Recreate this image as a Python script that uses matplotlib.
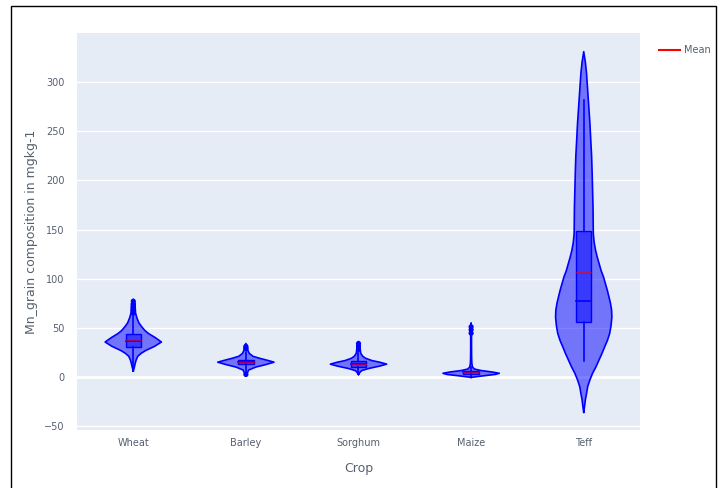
import numpy as np
import matplotlib.pyplot as plt
from matplotlib.lines import Line2D
from matplotlib.patches import Rectangle

crops = ['Wheat', 'Barley', 'Sorghum', 'Maize', 'Teff']

# violin outlines: value levels and relative half-width (1 = widest)
wheat_y = [6, 10, 14, 17, 21, 24, 27, 31, 35.5, 40, 44, 47, 51, 55, 60, 65, 70, 75, 79]
wheat_w = [0, 0.04, 0.07, 0.1, 0.16, 0.28, 0.45, 0.75, 1.0, 0.78, 0.55, 0.42, 0.3, 0.2, 0.13, 0.08, 0.07, 0.06, 0]
barley_y = [1, 4, 7, 10, 12.5, 15, 17, 19, 21, 24, 27, 31, 34]
barley_w = [0, 0.05, 0.1, 0.35, 0.7, 1.0, 0.75, 0.48, 0.25, 0.12, 0.07, 0.05, 0]
sorghum_y = [2.5, 5, 6.5, 8.5, 11, 13, 15, 16.6, 19, 21, 24, 28, 32, 36]
sorghum_w = [0, 0.06, 0.12, 0.35, 0.75, 1.0, 0.75, 0.48, 0.25, 0.15, 0.08, 0.06, 0.05, 0]
maize_y = [-0.5, 1, 2.5, 3.7, 5, 6.5, 8, 10, 14, 20, 30, 40, 50, 55]
maize_w = [0, 0.4, 0.85, 1.0, 0.75, 0.35, 0.12, 0.05, 0.025, 0.018, 0.015, 0.015, 0.012, 0]
teff_y = [-36, -30, -23, -17, -10, -3, 4, 10, 17, 24, 31, 37, 44, 52, 61, 68, 75, 81, 88, 95,
          102, 108, 115, 122, 129, 137, 146, 160, 173, 190, 207, 225, 241, 258, 275, 292, 309, 320, 331]
teff_w = [0, 0.03, 0.06, 0.1, 0.14, 0.22, 0.32, 0.43, 0.54, 0.65, 0.75, 0.84, 0.92, 0.97, 1.0, 0.99,
          0.95, 0.9, 0.84, 0.77, 0.7, 0.62, 0.55, 0.48, 0.42, 0.37, 0.34, 0.335, 0.33, 0.315, 0.3,
          0.28, 0.25, 0.22, 0.18, 0.14, 0.1, 0.06, 0]

# inner box statistics
q1 = [30, 12.8, 10.5, 3, 56]
median = [37, 15, 13, 4.5, 77]
q3 = [43.5, 17.3, 16, 6, 148]
mean = [37.5, 15.5, 13.5, 5.5, 107]
whisker_lo = [9, 5, 4, 0.5, 16]
whisker_hi = [62, 25, 24, 10, 282]
outliers = [[65, 68, 71, 74, 77], [29, 31, 2.5], [28, 31, 34], [44.5, 48, 51], []]

profiles = [(wheat_y, wheat_w), (barley_y, barley_w), (sorghum_y, sorghum_w),
            (maize_y, maize_w), (teff_y, teff_w)]

blue = '#0000ff'
half_width = 0.25
box_half = 0.068

fig = plt.figure(figsize=(7.18, 4.88), dpi=100)
ax = fig.add_axes([0.1072, 0.1189, 0.7842, 0.8135])
ax.set_facecolor('#E5ECF6')

for i, (ys, ws) in enumerate(profiles):
    ys = np.array(ys, dtype=float)
    ws = np.array(ws, dtype=float) * half_width
    ax.fill_betweenx(ys, i - ws, i + ws, facecolor=blue, alpha=0.5,
                     edgecolor='none', zorder=2)
    ax.plot(np.r_[i - ws, (i + ws)[::-1], i - ws[0]], np.r_[ys, ys[::-1], ys[0]],
            color=blue, lw=1.2, zorder=3, solid_joinstyle='round')
    # whiskers
    ax.plot([i, i], [whisker_lo[i], q1[i]], color=blue, lw=1.2, zorder=3)
    ax.plot([i, i], [q3[i], whisker_hi[i]], color=blue, lw=1.2, zorder=3)
    # box
    ax.add_patch(Rectangle((i - box_half, q1[i]), 2 * box_half, q3[i] - q1[i],
                           facecolor=blue, alpha=0.5, edgecolor='none', zorder=4))
    ax.add_patch(Rectangle((i - box_half, q1[i]), 2 * box_half, q3[i] - q1[i],
                           facecolor='none', edgecolor=blue, lw=1.0, zorder=5))
    ax.plot([i - box_half, i + box_half], [median[i], median[i]], color=blue, lw=1.2, zorder=5)
    ax.plot([i - box_half, i + box_half], [mean[i], mean[i]], color='red', lw=1.0,
            alpha=0.6, zorder=6)
    if outliers[i]:
        ax.scatter([i] * len(outliers[i]), outliers[i], s=14, color=blue, zorder=6,
                   edgecolors='none')

ax.set_xlim(-0.5, 4.5)
ax.set_ylim(-54, 350)
ax.set_xticks(range(len(crops)))
ax.set_xticklabels(crops)
ax.set_yticks(np.arange(-50, 301, 50))
ax.grid(axis='y', color='white', lw=1.0, zorder=0)
ax.axhline(0, color='white', lw=2, zorder=1)
ax.set_axisbelow(True)
for s in ax.spines.values():
    s.set_visible(False)
ax.tick_params(axis='y', length=0, labelsize=7, colors='#55606e', pad=9)
ax.tick_params(axis='x', length=0, labelsize=7, colors='#55606e', pad=6)
ax.set_xlabel('Crop', fontsize=9, color='#55606e', labelpad=10)
ax.set_ylabel('Mn_grain composition in mgkg-1', fontsize=9, color='#55606e', labelpad=4)

leg = fig.legend(handles=[Line2D([], [], color='red', lw=1.5)], labels=['Mean'],
                 loc='upper left', bbox_to_anchor=(0.905, 0.925), frameon=False,
                 fontsize=7, handlelength=2.2, handletextpad=0.4, labelcolor='#55606e')

# outer frame
fig.add_artist(Rectangle((11 / 718, -0.01), 705 / 718, 1 - 6 / 488 + 0.01,
                         transform=fig.transFigure, fill=False, edgecolor='black', lw=1))

fig.savefig('out.png', dpi=100)
